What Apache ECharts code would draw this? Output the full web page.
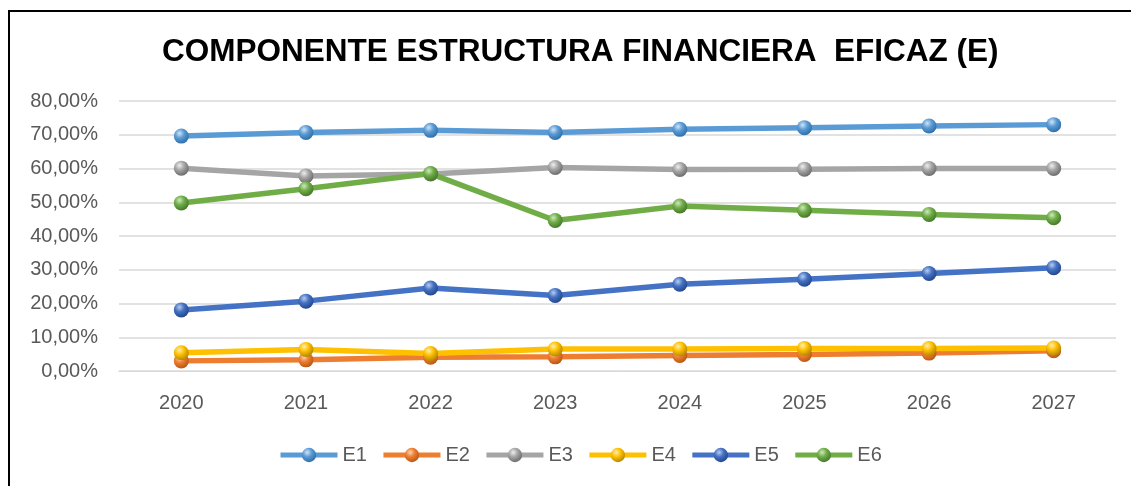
<!DOCTYPE html>
<html>
<head>
<meta charset="utf-8">
<script src="https://cdn.jsdelivr.net/npm/echarts@6/dist/echarts.min.js"></script>
<style>
  html, body { margin:0; padding:0; overflow:hidden; background:#fff; }
  #frame { position:absolute; left:8px; top:10px; width:1200px; height:600px; border:2px solid #000; }
  #chart { position:absolute; left:0; top:0; width:1131px; height:486px; }
</style>
</head>
<body>
<div id="frame"></div>
<div id="chart"></div>
<script>
// data (percent)
var years = ['2020', '2021', '2022', '2023', '2024', '2025', '2026', '2027'];
var names = ['E1', 'E2', 'E3', 'E4', 'E5', 'E6'];
var e1 = [69.6, 70.7, 71.3, 70.7, 71.6, 72.1, 72.6, 73.0];
var e2 = [3.0, 3.3, 4.1, 4.2, 4.6, 4.9, 5.3, 6.0];
var e3 = [60.1, 57.8, 58.4, 60.3, 59.7, 59.8, 60.0, 60.0];
var e4 = [5.4, 6.4, 5.2, 6.5, 6.5, 6.7, 6.7, 6.8];
var e5 = [18.1, 20.7, 24.6, 22.4, 25.7, 27.2, 28.9, 30.6];
var e6 = [49.8, 54.0, 58.5, 44.6, 48.9, 47.6, 46.4, 45.4];
var yTicks = [0, 10, 20, 30, 40, 50, 60, 70, 80];

var allData = [e1, e2, e3, e4, e5, e6];
var colors = ['#5B9BD5', '#ED7D31', '#A5A5A5', '#FFC000', '#4472C4', '#70AD47'];
var dark = ['#2f6fa8', '#b85714', '#6b6b6b', '#b48600', '#23468a', '#44782a'];
var light = ['#cfe4f7', '#fbd3b6', '#eeeeee', '#fff0b0', '#b8cbee', '#cfe8bf'];

function sphere(i){
  return new echarts.graphic.RadialGradient(0.38, 0.32, 0.7, [
    { offset: 0, color: light[i] },
    { offset: 0.45, color: colors[i] },
    { offset: 1, color: dark[i] }
  ]);
}

var series = [];
for(let i = 0; i < names.length; i++){
  series.push({
    name: names[i],
    type: 'line',
    data: allData[i],
    symbol: 'circle',
    symbolSize: 15,
    lineStyle: { color: colors[i], width: 5.5 },
    itemStyle: { color: sphere(i), borderWidth: 0 },
    emphasis: { disabled: true },
    animation: false
  });
}

var chart = echarts.init(document.getElementById('chart'));
chart.setOption({
  color: colors,
  title: {
    text: 'COMPONENTE ESTRUCTURA FINANCIERA  EFICAZ (E)',
    left: 157,
    top: 31,
    textStyle: { fontFamily: 'Liberation Sans', fontWeight: 'bold', fontSize: 31.5, color: '#000' }
  },
  legend: {
    data: names,
    bottom: 16,
    left: 273,
    itemWidth: 57,
    itemHeight: 18,
    itemGap: 14,
    lineStyle: { width: 5 },
    textStyle: { fontFamily: 'Liberation Sans', fontSize: 20, color: '#595959' }
  },
  grid: { left: 119, right: 15, top: 101, bottom: 115 },
  xAxis: {
    type: 'category',
    data: years,
    boundaryGap: true,
    axisLine: { lineStyle: { color: '#d9d9d9' } },
    axisTick: { show: false },
    axisLabel: { margin: 22, fontFamily: 'Liberation Sans', fontSize: 20, color: '#595959' }
  },
  yAxis: {
    type: 'value',
    min: yTicks[0],
    max: yTicks[yTicks.length - 1],
    interval: 10,
    axisLine: { show: false },
    axisTick: { show: false },
    splitLine: { lineStyle: { color: '#d9d9d9', width: 1.5 } },
    axisLabel: {
      margin: 21,
      fontFamily: 'Liberation Sans',
      fontSize: 20,
      color: '#595959',
      formatter: function(v){ return v.toFixed(2).replace('.', ',') + '%'; }
    }
  },
  series: series
});
</script>
</body>
</html>
